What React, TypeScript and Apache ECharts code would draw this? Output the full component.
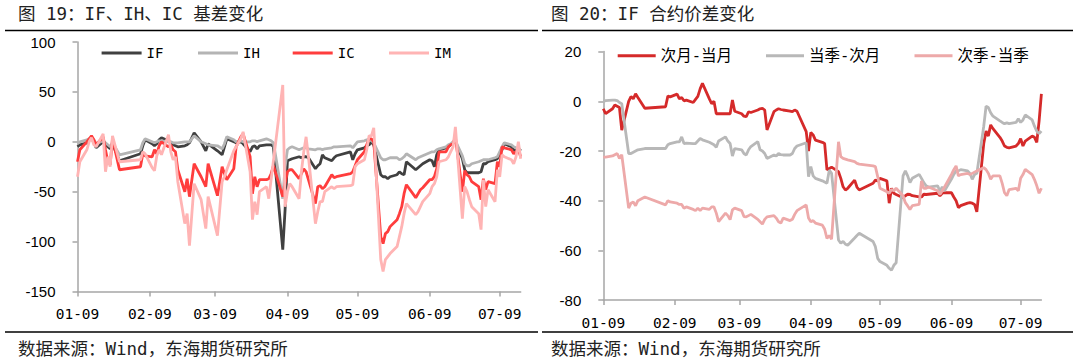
import React, { useEffect, useRef } from "react";
import * as echarts from "echarts";

// ---------- tick labels ----------
const tickLabels = ["01-09", "02-09", "03-09", "04-09", "05-09", "06-09", "07-09"];

// ---------- figure 19 : basis ----------
const leftDates = [
  "01-09","01-10","01-13","01-14","01-15","01-16","01-17","01-20","01-21","01-22","01-23","01-24","01-27",
  "02-05","02-06","02-07","02-10","02-11","02-12","02-13","02-14","02-17","02-18","02-19","02-20","02-21","02-24","02-25","02-26","02-28",
  "03-03","03-05","03-06","03-10","03-12","03-13","03-14","03-17","03-18","03-20","03-21","03-24","03-25","03-26","03-27","03-28","03-31",
  "04-01","04-02","04-03","04-07","04-08","04-09","04-10","04-11","04-14","04-15","04-16","04-17","04-18","04-21","04-22","04-23","04-24","04-25","04-28","04-29","04-30",
  "05-06","05-07","05-08","05-09","05-12","05-13","05-14","05-15","05-16","05-19","05-20","05-21","05-22","05-23","05-26","05-27","05-28","05-29","05-30",
  "06-03","06-04","06-05","06-06","06-09","06-10","06-11","06-12","06-13","06-16","06-17","06-18","06-19","06-20","06-23","06-24","06-25","06-26","06-27","06-30",
  "07-01","07-02","07-03","07-04","07-07","07-08","07-09","07-10","07-11","07-14","07-15","07-16","07-17","07-18",
];
const ifBasis = [
  -5,-3,-1,2,3,0,-6,0,-3,-5,-7,-2,-19,
  -12,-4,2,-2,-4,-2,2,4,1,-1,-3,-4,-5,-4,-3,-1,9,
  0,-9,-2,-9,-13,-5,3,0,-1,0,-2,-10,-5,-4,-7,-4,-3,
  -3,-3,-5,-108,-68,-19,-18,-17,-15,-16,-15,-15,-16,-27,-24,-22,-13,-16,-19,-16,-14,
  -10,-18,-12,-8,-6,-4,-3,0,-3,-33,-35,-35,-37,-35,-33,-30,-32,-33,-20,
  -28,-26,-24,-22,-18,-19,-25,-13,-8,-6,-5,-3,-1,0,-17,-28,-31,-31,-31,-31,
  -30,-22,-22,-20,-18,-17,-12,-8,-2,-5,-8,-9,-10,-7,
];
const ihBasis = [
  -2,0,2,3,4,2,-2,1,-1,-3,-5,-1,-13,
  -8,-1,3,0,-1,0,1,1,0,0,-1,-1,-1,0,0,0,6,
  0,-2,-3,-4,-7,-2,5,2,0,1,0,0,1,1,0,1,3,
  2,1,-1,-57,-25,-8,-6,-5,-8,-7,-6,-6,-7,-8,-7,-7,-8,-7,-6,-5,-5,
  -4,-6,-3,0,1,2,2,1,-1,-16,-18,-18,-17,-16,-16,-18,-17,-15,-12,
  -18,-16,-15,-14,-11,-10,-10,-8,-7,-5,-3,-2,0,1,-14,-22,-24,-24,-22,-20,
  -19,-18,-18,-18,-16,-15,-10,-5,-1,-3,-5,-6,-8,-7,
];
const icBasis = [
  -20,-8,0,3,6,2,-3,5,-8,-20,-23,3,-28,
  -25,-12,-14,-15,-8,-12,-4,0,-5,-3,-8,-10,-28,-50,-37,-55,-22,
  -35,-45,-22,-54,-25,-32,-38,-27,-5,5,8,-15,-52,-35,-45,-38,-38,
  -37,-32,-24,-55,-42,-30,-28,-28,-37,-32,-27,-30,-38,-62,-45,-44,-47,-45,-33,-36,-35,
  -32,-30,-24,-18,-10,-3,3,3,0,-95,-102,-92,-90,-85,-78,-72,-65,-52,-43,
  -56,-52,-48,-46,-38,-38,-35,-27,-10,-10,-5,-3,-2,5,-50,-29,-33,-35,-40,-45,
  -58,-37,-48,-40,-42,-20,-25,-5,-6,-8,-12,-10,-8,-15,
];
const imBasis = [
  -35,-20,-8,0,4,-3,-5,8,-30,-15,-25,6,-20,
  -18,-10,-12,-26,-29,-14,-8,-13,7,-10,-18,-15,-40,-82,-72,-104,-42,
  -58,-87,-55,-94,-40,-35,-28,-9,-5,3,10,-30,-78,-60,-73,-50,-45,
  -57,null,null,57,-65,-50,-42,-45,-57,-30,-10,5,-15,-82,-70,-60,-60,-50,-45,-47,-45,
  -44,-43,-25,-22,-18,-8,6,6,14,-118,-130,-118,-115,-112,-105,-95,-85,-72,-62,
  -73,-70,-65,-60,-52,-45,-42,-35,-20,-18,-15,-10,-5,15,-77,-45,-50,-58,-65,-72,
  -88,-38,-65,-48,-60,-28,-35,-13,-15,-18,-22,-15,0,-17,
];

// ---------- figure 20 : IF calendar spreads ----------
const rightDates = [
  "01-09","01-10","01-13","01-14","01-15","01-16","01-17","01-20","01-21","01-22","01-23","01-24","01-27",
  "02-05","02-06","02-07","02-10","02-11","02-12","02-13","02-14","02-17","02-18","02-19","02-20","02-21","02-24","02-25","02-26","02-27","02-28",
  "03-03","03-04","03-05","03-06","03-07","03-10","03-11","03-12","03-13","03-14","03-17","03-18","03-19","03-20","03-21","03-24","03-25","03-26","03-27","03-28","03-31",
  "04-01","04-02","04-03","04-07","04-08","04-09","04-10","04-11","04-14","04-15","04-16","04-17","04-18","04-21","04-22","04-23","04-24","04-25","04-28","04-29","04-30",
  "05-06","05-07","05-08","05-09","05-12","05-13","05-14","05-15","05-16","05-19","05-20","05-21","05-22","05-23","05-26","05-27","05-28","05-29","05-30",
  "06-03","06-04","06-05","06-06","06-09","06-10","06-11","06-12","06-13","06-16","06-17","06-18","06-19","06-20","06-23","06-24","06-25","06-26","06-27","06-30",
  "07-01","07-02","07-03","07-04","07-07","07-08","07-09","07-10","07-11","07-14","07-15","07-16","07-17","07-18",
];
const nextMinusCurrent = [
  -3,-5,-3,-1.5,-2,-2.5,-11.6,0,1.9,1,3,1.5,-2.8,
  -2.2,2.1,1.8,2.9,1,1.5,0.2,0.5,-0.5,0.8,2,5,7.2,1,-1,0,-5,-5,
  -5,-5,-5,0.5,-4,-5,-6,-6.2,-4.2,-4.5,-3.5,-3,-2.8,-3.5,-11.5,-4.2,-3.5,-3,-3.3,-3.5,-4,
  -4.2,-3.5,-4,-12.2,-20,-12.5,-13.5,-15.6,-16.5,-17,-27.6,-27,-26.5,-28.3,-31,-34.4,-35.7,-35,-31.7,-34.5,-35.7,
  -33,-31.7,-32,-31,-32,-41,-35,-37,-37.5,-38.8,-38,-37.4,-37.5,-38,-38.5,-38.5,-37.4,-37.5,-37.4,
  -37,-38,-37,-36.8,-36.8,-38.5,-40,-42.8,-42,-41,-40.8,-41,-41.5,-44.5,-17,-12,-14,-9.5,-11,-14.5,
  -16,-18,-18.5,-18.7,-18,-17,-15,-18,-16,-14,-14.5,-16.5,-8,3,
];
const quarterMinusNext = [
  0,0.3,0.5,0.5,0.3,-0.5,-1,-21,-21,-20.5,-20,-19.5,-19,
  -19,-17.5,-17,-16.3,-16.3,-14.3,-17,-16.8,-17,-17,-16,-15,-15.5,-16.5,-17,-17.5,-18.5,-16,
  -14.3,-16,-17,-22,-19,-19.5,-21,-21.6,-19.5,-18.2,-16.2,-19.5,-20,-21,-23,-21.6,-22,-21,-21.5,-21.6,-21.6,
  -21,-19,-18,-16.7,-30.3,-26.3,-30,-31,-32,-32.5,-33,-27.7,-29,-55.8,-57.1,-56.4,-57.5,-57.9,-55,-54,-53.1,
  -56.4,-58.5,-63.2,-64.5,-66,-67.2,-68,-66,-65,-30,-28,-30,-32.7,-31,-29.4,-31,-32.7,-34,-34.5,
  -34,-36.2,-34.5,-36,-31.3,-29.4,-28,-28,-27.5,-28,-29,-31.4,-29.5,-29,-10,-2,-2.5,-4.6,-6,-7.9,
  -8.5,-9,-8.7,-9,-8.5,-7,-8.5,-7.5,-5.5,-7.5,-10,-12,-13,-12,
];
const nextQuarterMinusQuarter = [
  -22.5,-22.5,-22,-21.5,-21,-23,-21.5,-43,-41,-40.5,-42,-40,-38.5,
  -41.7,-40,-40.5,-41,-41.5,-41.5,-43,-42.5,-43.5,-44,-43,-44,-43,-43.5,-42.5,-42.5,-45,-48.4,
  -45,-46,-47.6,-43.7,-43,-44,-46.4,-46.5,-46,-45.5,-47.5,-48.5,-49.4,-47.5,-46.5,-46,-47,-48.5,-49,-47,-48,
  -47.5,-45.5,-44,-41.7,-47,-48.5,-48,-49,-49.8,-51.5,-55.2,-54,-55.5,-16.3,-22.3,-23,-23.3,-23.6,-24.3,-25,-25.3,
  -26,-26.3,-30.3,-35,-36.4,-37,-35.5,-36,-35,-38,-40.8,-42.1,-43.5,-42,-41.5,-32,-35,-35,-34.5,
  -36,-37.5,-36,-34.5,-29.4,-27.5,-26,-30,-29.5,-29,-29.5,-29,-28.5,-28,-26.7,-27.5,-29,-31.4,-30,-30,
  -33,-36.8,-38,-35.5,-35,-36,-31,-29.5,-27.4,-29.5,-31.5,-34,-37,-35,
];

const YEAR = 2025;
const dayOf = (md: string) => {
  const [m, d] = md.split("-").map(Number);
  return Math.round((Date.UTC(YEAR, m - 1, d) - Date.UTC(YEAR, 0, 9)) / 86400000);
};
const tickDays = tickLabels.map(dayOf);
const lastDay = dayOf("07-18");

const FONT_CJK = '"DejaVu Sans Mono", "Noto Sans CJK SC", sans-serif';
const FONT_NUM = '"Liberation Sans", Arial, sans-serif';
const FONT_TICK = '"DejaVu Sans Mono", monospace';

const pair = (dates: string[], vals: (number | null)[]) =>
  dates.map((d, i) => [dayOf(d), vals[i]]);

function xAxesFor(grid: number) {
  return [
    {
      gridIndex: grid,
      type: "value",
      min: 0,
      max: lastDay,
      position: "bottom",
      axisLine: { show: false },
      axisTick: { show: false },
      splitLine: { show: false },
      axisLabel: {
        customValues: tickDays,
        formatter: (v: number) => {
          const i = tickDays.indexOf(Math.round(v));
          return i >= 0 ? tickLabels[i] : "";
        },
        margin: 15,
        fontFamily: FONT_TICK,
        fontSize: 14.5,
        color: "#000",
      },
    },
    {
      gridIndex: grid,
      type: "value",
      min: 0,
      max: lastDay,
      position: "bottom",
      axisLine: { show: true, onZero: true, lineStyle: { color: "#a6a6a6", width: 1.5 } },
      axisTick: { show: true, customValues: tickDays, length: 5, lineStyle: { color: "#a6a6a6", width: 1.5 } },
      axisLabel: { show: false },
      splitLine: { show: false },
    },
  ];
}

function yAxisFor(grid: number, min: number, max: number, interval: number) {
  return {
    gridIndex: grid,
    type: "value",
    min,
    max,
    interval,
    axisLine: { show: true, lineStyle: { color: "#a6a6a6", width: 1.5 } },
    axisTick: { show: true, length: 5, lineStyle: { color: "#a6a6a6", width: 1.5 } },
    splitLine: { show: false },
    axisLabel: { fontFamily: FONT_NUM, fontSize: 15, color: "#000", margin: 22 },
  };
}

function line(name: string, color: string, data: any[], xi: number, yi: number) {
  return {
    name,
    type: "line",
    xAxisIndex: xi,
    yAxisIndex: yi,
    data,
    showSymbol: false,
    symbol: "none",
    connectNulls: true,
    lineStyle: { color, width: 2.8 },
    itemStyle: { color },
  };
}

function legendItem(name: string, left: number, top: number, w: number, fs: number) {
  return {
    data: [name],
    left,
    top,
    padding: 0,
    icon: "rect",
    itemWidth: w,
    itemHeight: 3,
    textStyle: { fontFamily: FONT_CJK, fontSize: fs, color: "#000" },
  };
}

export default function App() {
  const ref = useRef<HTMLDivElement>(null);
  useEffect(() => {
    if (!ref.current) return;
    const chart = echarts.init(ref.current, undefined, { renderer: "svg" });
    const hLine = (x1: number, x2: number, y: number) => ({
      type: "line",
      shape: { x1, y1: y, x2, y2: y },
      style: { stroke: "#000", lineWidth: 1.5 },
    });
    const txt = (text: string, x: number, y: number, fs: number) => ({
      type: "text",
      x,
      y,
      style: { text, fontSize: fs, fontFamily: FONT_CJK, fill: "#222", verticalAlign: "middle", align: "left" },
    });
    chart.setOption({
      animation: false,
      backgroundColor: "#fff",
      grid: [
        { left: 77.5, top: 42, width: 443.2, height: 249.5 },
        { left: 603.3, top: 51.6, width: 438.1, height: 248.5 },
      ],
      xAxis: [...xAxesFor(0), ...xAxesFor(1)],
      yAxis: [yAxisFor(0, -150, 100, 50), yAxisFor(1, -80, 20, 20)],
      legend: [
        legendItem("IF", 101.6, 46, 40, 14),
        legendItem("IH", 198, 46, 40, 14),
        legendItem("IC", 292.7, 46, 40, 14),
        legendItem("IM", 389, 46, 40, 14),
        legendItem("次月-当月", 617.7, 48, 38, 15.5),
        legendItem("当季-次月", 766, 48, 38, 15.5),
        legendItem("次季-当季", 914.5, 48, 38, 15.5),
      ],
      series: [
        line("IF", "#404040", pair(leftDates, ifBasis), 0, 0),
        line("IH", "#b4b4b4", pair(leftDates, ihBasis), 0, 0),
        line("IC", "#ff3d3d", pair(leftDates, icBasis), 0, 0),
        line("IM", "#ffb4b4", pair(leftDates, imBasis), 0, 0),
        line("次月-当月", "#d52a2a", pair(rightDates, nextMinusCurrent), 2, 1),
        line("当季-次月", "#b8b8b8", pair(rightDates, quarterMinusNext), 2, 1),
        line("次季-当季", "#eda9a9", pair(rightDates, nextQuarterMinusQuarter), 2, 1),
      ],
      graphic: [
        txt("图 19：IF、IH、IC 基差变化", 18, 14, 17.5),
        txt("图 20：IF 合约价差变化", 551, 14, 17.5),
        hLine(5, 538, 30.5),
        hLine(542, 1073, 30.5),
        hLine(5, 538, 332),
        hLine(542, 1073, 332),
        txt("数据来源：Wind，东海期货研究所", 18, 348.5, 17.5),
        txt("数据来源：Wind，东海期货研究所", 551, 348.5, 17.5),
      ],
    });
    return () => chart.dispose();
  }, []);
  return (
    <div style={{ position: "absolute", left: 0, top: 0, width: 1075, height: 358, background: "#fff" }}>
      <div ref={ref} style={{ width: 1075, height: 358 }} />
    </div>
  );
}
